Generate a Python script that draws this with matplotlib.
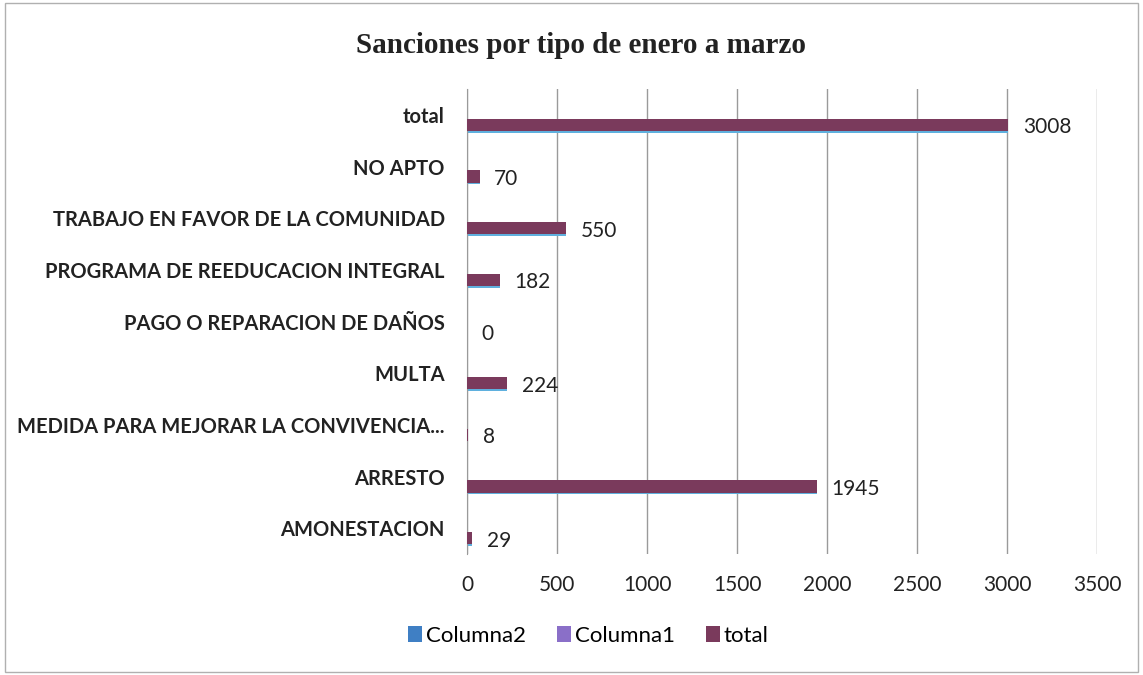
import matplotlib
matplotlib.use("Agg")
import matplotlib.pyplot as plt
from matplotlib.patches import Patch, Rectangle

# Daten
categorias = ["AMONESTACION", "ARRESTO", "MEDIDA PARA MEJORAR LA CONVIVENCIA...",
              "MULTA", "PAGO O REPARACION DE DAÑOS", "PROGRAMA DE REEDUCACION INTEGRAL",
              "TRABAJO EN FAVOR DE LA COMUNIDAD", "NO APTO", "total"]
total = [29, 1945, 8, 224, 0, 182, 550, 70, 3008]
series = ["Columna2", "Columna1", "total"]
colores = ["#3f7fc4", "#8a6fc8", "#7a3a5c"]
xticks = [0, 500, 1000, 1500, 2000, 2500, 3000, 3500]

fig = plt.figure(figsize=(11.43, 6.75), dpi=100)
ax = fig.add_axes([0.4086, 0.179, 0.5512, 0.689])

pos = [i - 0.19 for i in range(len(categorias))]
ax.barh(pos, total, height=0.24, color=colores[2], edgecolor="none", zorder=3)
# duenne blaue Kante unter den Balken (wie im Original)
ax.barh([p - 0.13 for p in pos], total, height=0.04, color="#5fb0de", edgecolor="none", zorder=2)

for p, v in zip(pos, total):
    ax.text(v + 80, p - 0.05, str(v), va="center", ha="left", fontsize=15,
            family="Lato", color="#222222")

ax.set_xlim(0, 3500)
ax.set_ylim(-0.5, 8.5)
ax.set_xticks(xticks)
ax.set_xticklabels([str(x) for x in xticks], fontsize=15, family="Lato", color="#222222")
ax.set_yticks(range(len(categorias)))
ax.set_yticklabels(categorias, fontsize=14.5, family="Lato", fontweight="bold", color="#222222")
ax.tick_params(axis="x", length=0, pad=15)
ax.tick_params(axis="y", length=0, pad=16)
ax.grid(axis="x", color="#9a9a9a", linewidth=1, zorder=0)
for s in ["top", "right", "bottom"]:
    ax.spines[s].set_visible(False)
ax.spines["left"].set_color("#9a9a9a")

fig.text(0.508, 0.933, "Sanciones por tipo de enero a marzo", ha="center", va="center",
         fontsize=21, family="Liberation Serif", fontweight="bold", color="#222222")

handles = [Patch(facecolor=c, edgecolor="none") for c in colores]
fig.legend(handles, series, loc="center", bbox_to_anchor=(0.515, 0.058), ncol=3, frameon=False,
           prop={"family": "Lato", "size": 16}, handlelength=0.6, handleheight=0.75,
           handletextpad=0.2, columnspacing=1.4)

fig.patches.append(Rectangle((0.004, 0.004), 0.992, 0.992, transform=fig.transFigure,
                             fill=False, edgecolor="#b0b0b0", linewidth=1))

fig.savefig("out.png", dpi=100)
